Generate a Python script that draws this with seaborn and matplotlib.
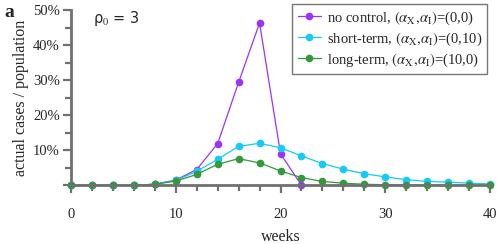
import numpy as np
import pandas as pd
import seaborn as sns
import matplotlib.pyplot as plt
from matplotlib.ticker import MultipleLocator

weeks = list(range(0, 41, 2))
weeks_nc = list(range(0, 23, 2))

# fraction of population
no_control = [0, 0, 0, 0, 0.003, 0.015, 0.045, 0.119, 0.294, 0.463, 0.090, 0]
short_term = [0, 0, 0, 0, 0.003, 0.014, 0.040, 0.074, 0.111, 0.120, 0.107,
              0.084, 0.062, 0.046, 0.033, 0.024, 0.016, 0.011, 0.009, 0.006, 0.004]
long_term = [0, 0, 0, 0, 0.003, 0.012, 0.031, 0.060, 0.076, 0.064, 0.041,
             0.022, 0.011, 0.006, 0.003, 0.0015, 0.001, 0.0005, 0.0003, 0.0002, 0.0001]

labels = [r"no control, $(\alpha_\mathrm{X},\!\alpha_\mathrm{I})$=(0,0)",
          r"short-term, $(\alpha_\mathrm{X},\!\alpha_\mathrm{I})$=(0,10)",
          r"long-term, $(\alpha_\mathrm{X},\!\alpha_\mathrm{I})$=(10,0)"]
colors = ["#9b33ff", "#14cbf7", "#33993a"]

df = pd.DataFrame({
    "week": weeks_nc + weeks + weeks,
    "frac": no_control + short_term + long_term,
    "series": [labels[0]] * len(weeks_nc) + [labels[1]] * len(weeks) + [labels[2]] * len(weeks),
})

sns.set_style("ticks")
plt.rcParams["font.family"] = ["Liberation Serif", "DejaVu Serif"]
plt.rcParams["mathtext.fontset"] = "stix"

fig = plt.figure(figsize=(4.98, 2.44), dpi=100)
ax = fig.add_axes([0.1426, 0.2406, 0.8414, 0.718])

sns.lineplot(data=df, x="week", y="frac", hue="series", hue_order=labels,
             palette=colors, marker="o", markersize=5.5, markeredgewidth=0,
             linewidth=0.9, ax=ax, clip_on=False, legend=True)

ax.set_xlim(0, 40)
ax.set_ylim(0, 0.5)
ax.xaxis.set_major_locator(MultipleLocator(10))
ax.xaxis.set_minor_locator(MultipleLocator(2))
ax.yaxis.set_major_locator(MultipleLocator(0.1))
ax.yaxis.set_minor_locator(MultipleLocator(0.05))
ax.yaxis.set_major_formatter(lambda v, p: "" if v == 0 else f"{v*100:.0f}%")

spine_c = "#707070"
for s in ["top", "right"]:
    ax.spines[s].set_visible(False)
for s in ["left", "bottom"]:
    ax.spines[s].set_color(spine_c)
    ax.spines[s].set_linewidth(2)
ax.tick_params(which="both", color=spine_c, width=1.6, labelsize=10.5, direction="out")
ax.tick_params(which="major", length=6, pad=10)
ax.tick_params(which="minor", length=4)
ax.tick_params(axis="y", which="major", pad=2)

ax.set_xlabel("weeks", fontsize=11.5, labelpad=6)
ax.set_ylabel("actual cases / population", fontsize=11.5, labelpad=3)

ax.text(2.1, 0.475, r"ρ$_0$ = 3", fontsize=10.5, family="DejaVu Sans", va="center")
fig.text(0.008, 0.985, "a", fontsize=14, fontweight="bold", va="top")

leg = ax.legend(loc="upper right", bbox_to_anchor=(1.0, 1.05), fontsize=10.5,
                frameon=True, fancybox=False, handlelength=1.6, handletextpad=0.4,
                borderpad=0.35, labelspacing=0.25, borderaxespad=0.2)
leg.get_frame().set_edgecolor("#555555")
leg.get_frame().set_linewidth(1.0)

fig.savefig("out.png", dpi=100)
